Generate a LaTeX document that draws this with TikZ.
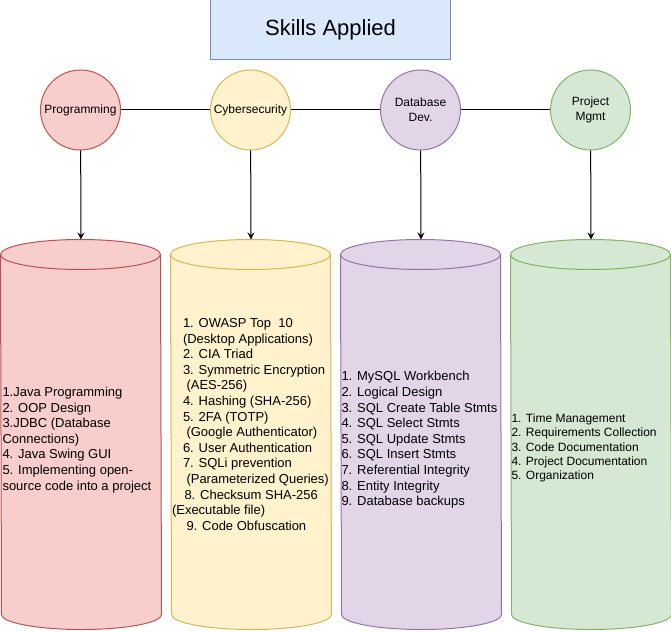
\documentclass[tikz,border=0pt]{standalone}
\usepackage{fontspec}
\setmainfont{Liberation Sans}
\usetikzlibrary{arrows.meta}

\definecolor{titlefill}{HTML}{DAE8FC}
\definecolor{titleline}{HTML}{6C8EBF}
\definecolor{progfill}{HTML}{F8CECC}
\definecolor{progline}{HTML}{B85450}
\definecolor{cyberfill}{HTML}{FFF2CC}
\definecolor{cyberline}{HTML}{D6B656}
\definecolor{dbfill}{HTML}{E1D5E7}
\definecolor{dbline}{HTML}{9673A6}
\definecolor{pmfill}{HTML}{D5E8D4}
\definecolor{pmline}{HTML}{82B366}

% cylinder round a named box: name, line colour, fill colour
\newcommand{\drum}[3]{%
	\path[draw = #2, fill = #3] ([yshift = -15pt]#1.north west)
		arc[start angle = 180, end angle = 0, x radius = 80pt, y radius = 15pt]
		-- ([yshift = 15pt]#1.south east)
		arc[start angle = 0, end angle = -180, x radius = 80pt, y radius = 15pt]
		-- cycle;
	\draw[#2] ([yshift = -15pt]#1.north west)
		arc[start angle = 180, end angle = 360, x radius = 80pt, y radius = 15pt];
}

\begin{document}
\begin{tikzpicture}[
	x = 1pt, y = -1pt, line width = 1pt,
	heading/.style = {draw = titleline, fill = titlefill, minimum width = 240pt, minimum height = 60pt, font = \fontsize{22}{26}\selectfont},
	topic/.style = {circle, minimum size = 80pt, inner sep = 0pt, align = center, font = \fontsize{12}{15}\selectfont},
	store/.style = {minimum width = 160pt, minimum height = 389pt, inner sep = 0pt},
	list/.style = {anchor = west, align = left, inner sep = 0pt, font = \fontsize{13}{15.6}\selectfont},
	link/.style = {draw, black},
	feed/.style = {draw, black, -{Stealth[length = 7pt, width = 7pt, inset = 2.5pt]}}
	]
	\useasboundingbox (0,0) rectangle (671,631);
	
	% title
	\node[heading] (title) at (330.5,30) {Skills Applied};
	
	% skill areas
	\node[topic, draw = progline, fill = progfill] (prog) at (80.5,110) {Programming};
	\node[topic, draw = cyberline, fill = cyberfill] (cyber) at (250.5,110) {Cybersecurity};
	\node[topic, draw = dbline, fill = dbfill] (db) at (420.5,110) {Database\\Dev.};
	\node[topic, draw = pmline, fill = pmfill] (pm) at (590.5,110) {Project\\Mgmt};
	
	\draw[link] (prog) -- (cyber);
	\draw[link] (cyber) -- (db);
	\draw[link] (db) -- (pm);
	
	% cylinders
	\node[store] (progcyl) at (81,434.5) {};
	\node[store] (cybercyl) at (251,434.5) {};
	\node[store] (dbcyl) at (421,434.5) {};
	\node[store] (pmcyl) at (591,434.5) {};
	\drum{progcyl}{progline}{progfill}
	\drum{cybercyl}{cyberline}{cyberfill}
	\drum{dbcyl}{dbline}{dbfill}
	\drum{pmcyl}{pmline}{pmfill}
	
	\draw[feed] (prog) -- (progcyl.north);
	\draw[feed] (cyber) -- (cybercyl.north);
	\draw[feed] (db) -- (dbcyl.north);
	\draw[feed] (pm) -- (pmcyl.north);
	
	% lists
	\node[list] (proglist) at (2,440) {1.Java Programming\\2. OOP Design\\3.JDBC (Database\\Connections)\\4. Java Swing GUI\\5. Implementing open-\\source code into a project};
	\node[list] (cyberlist) at (171.5,424.5) {%
		\hspace{11pt}1. OWASP Top~~10\\
		\hspace{11pt}(Desktop Applications)\\
		\hspace{11pt}2. CIA Triad\\
		\hspace{11pt}3. Symmetric Encryption\\
		\hspace{14.5pt}(AES-256)\\
		\hspace{11pt}4. Hashing (SHA-256)\\
		\hspace{11pt}5. 2FA (TOTP)\\
		\hspace{14.5pt}(Google Authenticator)\\
		\hspace{11pt}6. User Authentication\\
		\hspace{11pt}7. SQLi prevention\\
		\hspace{14.5pt}(Parameterized Queries)\\
		\hspace{12.5pt}8. Checksum SHA-256\\
		(Executable file)\\
		\hspace{14.5pt}9. Code Obfuscation};
	\node[list] (dblist) at (341,440) {1. MySQL Workbench\\2. Logical Design\\3. SQL Create Table Stmts\\4. SQL Select Stmts\\5. SQL Update Stmts\\6. SQL Insert Stmts\\7. Referential Integrity\\8. Entity Integrity\\9. Database backups};
	\node[list, font = \fontsize{12}{14.2}\selectfont] (pmlist) at (511,448) {1. Time Management\\2. Requirements Collection\\3. Code Documentation\\4. Project Documentation\\5. Organization};
\end{tikzpicture}
\end{document}
